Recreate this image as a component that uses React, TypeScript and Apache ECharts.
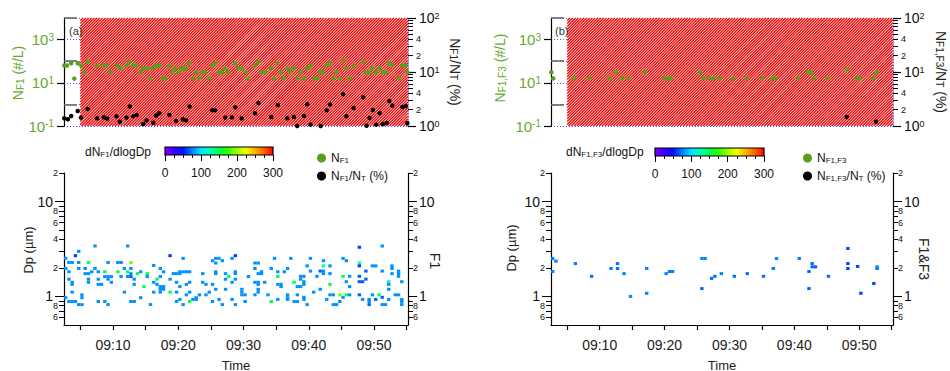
import React, { useEffect, useRef } from "react";
import * as echarts from "echarts";

// ---------- axes / ranges (minutes after 09:00) ----------
const TIME_RANGE = [2.5, 55.2];
const HATCH_FROM = 5;
const X_TICKS = [5, 10, 15, 20, 25, 30, 35, 40, 45, 50, 55];
const X_LABELS = [10, 20, 30, 40, 50];
const N_RANGE = [0.1, 10000];
const N_LABELLED = [0.1, 10, 1000];
const N_INNER = [1, 100, 10000];
const RATIO_RANGE = [1, 100];
const RATIO_MAJOR = [1, 10, 100];
const RATIO_MINOR = [2, 3, 4, 5, 6, 7, 8, 9, 20, 30, 40, 50, 60, 70, 80, 90];
const RATIO_MINOR_LABELS = [2, 4, 20, 40];
const DP_RANGE = [0.5, 20];
const DP_MAJOR = [1, 10];
const DP_MINOR = [0.6, 0.7, 0.8, 0.9, 2, 3, 4, 5, 6, 7, 8, 9, 20];
const DP_MINOR_LABELS = [0.6, 0.8, 2, 4, 6, 8, 20];
const CBAR_RANGE = [0, 300];
const CBAR_LABELS = [0, 100, 200, 300];
const CBAR_MINOR = [25, 50, 75, 125, 150, 175, 225, 250, 275];
const RAINBOW = ["#7f00ff", "#3c00ff", "#0010ff", "#0080ff", "#00e0ff", "#00ffb0", "#00ff50", "#30ff00", "#a0ff00", "#f0ff00", "#ffb000", "#ff6000", "#ff0000"];

// ---------- panel (a) : F1 ----------
// [minute, N_F1 (#/L)]
const nF1: [number, number][] = [
  [2.55, 63], [2.95, 63], [3.6, 80], [4.08, 15.6], [4.6, 80], [5.15, 63], [5.6, 31], [6.13, 94], [7.56, 63], [8.59, 63],
  [9.0, 63], [9.62, 31], [10.64, 63], [11.15, 47], [12.08, 63], [12.49, 94], [13.1, 63], [13.6, 63], [14.23, 31], [14.64, 47],
  [15.26, 47], [15.67, 15.6], [16.18, 47], [16.59, 63], [17.1, 63], [17.62, 15.6], [18.03, 15.6], [18.64, 63], [19.15, 31], [19.51, 47],
  [20.08, 31], [20.49, 47], [20.9, 47], [21.2, 47], [21.72, 80], [22.23, 15.6], [22.69, 31], [23.26, 15.6], [23.67, 31], [24.08, 31],
  [24.74, 15.6], [25.2, 63], [25.67, 80], [26.18, 31], [26.69, 31], [27.15, 47], [27.56, 31], [28.69, 80], [29.2, 47], [29.72, 47],
  [30.33, 31], [30.74, 15.6], [31.77, 63], [32.28, 94], [32.79, 31], [33.31, 31], [34.23, 47], [34.64, 15.6], [35.15, 80], [35.67, 31],
  [36.18, 15.6], [36.69, 47], [37.1, 31], [37.72, 47], [38.23, 15.6], [38.74, 31], [39.26, 15.6], [39.77, 47], [40.28, 63], [40.79, 15.6],
  [41.31, 15.6], [41.72, 31], [42.23, 31], [42.69, 63], [43.26, 80], [43.77, 15.6], [44.18, 31], [44.79, 15.6], [45.26, 110], [45.77, 47],
  [46.28, 15.6], [46.85, 63], [48.33, 94], [48.74, 31], [49.26, 31], [49.77, 47], [50.28, 31], [50.85, 47], [51.31, 31], [51.87, 31],
  [52.28, 80], [52.79, 63], [53.82, 15.6], [54.33, 63], [54.85, 63], [55.1, 31],
];
// [minute, N_F1/N_T (%)]
const ratioF1: [number, number][] = [
  [2.55, 1.39], [3.1, 1.33], [3.6, 1.53], [4.6, 1.9], [5.1, 1.43], [6.13, 2.07], [7.56, 1.39], [8.59, 1.45], [9.1, 1.37], [10.54, 1.51],
  [11.05, 1.2], [12.08, 1.43], [12.59, 2.29], [13.1, 1.51], [13.62, 1.6], [14.64, 1.09], [15.15, 1.27], [16.18, 1.15], [16.59, 1.56], [17.1, 1.72],
  [18.64, 1.6], [19.67, 1.24], [20.69, 1.33], [21.2, 1.27], [21.72, 2.29], [25.2, 1.95], [25.67, 1.95], [27.2, 1.43], [28.23, 1.45], [28.74, 2.22],
  [29.72, 1.39], [31.77, 1.72], [32.28, 2.67], [34.23, 1.47], [35.26, 2.45], [36.69, 1.39], [37.72, 1.47], [38.23, 1.0], [39.26, 1.53], [39.77, 2.53],
  [40.28, 1.06], [41.82, 1.0], [42.74, 1.95], [43.26, 2.49], [45.26, 3.87], [45.77, 1.51], [46.85, 2.16], [48.33, 3.41], [48.85, 1.01], [49.31, 1.41],
  [49.82, 1.98], [50.33, 1.06], [50.85, 1.72], [51.31, 1.09], [51.92, 1.14], [52.33, 2.91], [52.79, 2.39], [54.33, 2.25], [54.85, 2.35], [55.1, 1.14],
];
// [minute, Dp (µm), dN/dlogDp]
const cellsF1: [number, number, number][] = [
  [7.25, 3.4, 80], [12.25, 3.4, 80], [4.75, 2.99, 78], [4.25, 2.69, 60], [18.75, 2.69, 60], [2.75, 2.52, 80],
  [3.25, 2.28, 80], [3.75, 2.28, 80], [4.75, 2.28, 80], [6.25, 2.28, 150], [9.25, 2.28, 80], [10.75, 2.28, 80], [11.25, 2.28, 80], [12.75, 2.28, 190],
  [16.25, 2.12, 80],
  [2.75, 1.97, 80], [4.75, 1.97, 80], [5.75, 1.97, 80], [7.25, 1.97, 80], [11.75, 1.97, 80], [12.75, 1.97, 80], [17.25, 1.97, 80],
  [3.25, 1.82, 80], [6.75, 1.82, 80], [7.75, 1.82, 80], [8.75, 1.82, 150], [10.75, 1.82, 150], [12.25, 1.82, 145], [14.25, 1.82, 80], [17.75, 1.82, 80],
  [5.75, 1.74, 80], [6.25, 1.74, 80], [12.75, 1.74, 80], [13.75, 1.74, 150], [15.25, 1.74, 150], [19.25, 1.74, 80], [19.75, 1.74, 80],
  [8.75, 1.62, 80], [9.25, 1.62, 80], [9.75, 1.62, 80], [11.25, 1.62, 80], [12.25, 1.62, 80], [12.75, 1.62, 68], [15.25, 1.62, 80], [17.25, 1.62, 80],
  [3.25, 1.52, 80], [6.25, 1.52, 80], [7.75, 1.52, 80], [9.25, 1.52, 80], [13.25, 1.52, 80], [16.75, 1.52, 150], [18.75, 1.52, 80],
  [3.75, 1.41, 80], [6.25, 1.41, 80], [9.75, 1.41, 80], [16.25, 1.41, 80], [19.75, 1.41, 80],
  [3.75, 1.34, 80], [7.75, 1.34, 80], [8.25, 1.34, 80], [13.25, 1.34, 80], [16.75, 1.34, 80],
  [14.75, 1.27, 150], [17.25, 1.27, 80], [17.75, 1.27, 80], [17.25, 1.19, 80], [17.75, 1.19, 80],
  [3.75, 1.11, 80], [11.75, 1.11, 80], [16.25, 1.11, 80], [17.25, 1.11, 80], [18.75, 1.11, 150], [19.75, 1.11, 80],
  [5.25, 1.04, 80], [2.75, 0.97, 80], [5.25, 0.97, 80], [14.25, 0.97, 80],
  [3.25, 0.885, 80], [3.75, 0.885, 80], [4.25, 0.885, 80], [7.75, 0.885, 80], [8.75, 0.885, 80], [12.75, 0.885, 80], [13.25, 0.885, 80], [19.75, 0.885, 80],
  [4.75, 0.82, 80], [5.25, 0.82, 80], [9.25, 0.82, 80], [15.75, 0.82, 80],
  [28.75, 2.69, 60],
  [20.75, 2.52, 80], [25.75, 2.52, 80], [26.25, 2.52, 80], [28.25, 2.52, 80], [34.75, 2.52, 80], [37.25, 2.52, 80],
  [25.25, 2.38, 80], [26.75, 2.38, 80], [25.75, 2.25, 80], [31.75, 2.25, 80], [32.25, 2.25, 80],
  [31.75, 1.97, 80], [34.25, 1.97, 80], [36.75, 1.97, 80],
  [20.25, 1.82, 80], [20.75, 1.82, 80], [21.25, 1.82, 80], [21.75, 1.82, 80], [25.75, 1.82, 80], [28.75, 1.82, 80], [32.75, 1.82, 80], [35.25, 1.82, 80], [36.25, 1.82, 80],
  [20.25, 1.74, 80], [23.75, 1.74, 80], [25.75, 1.74, 80], [27.25, 1.74, 80], [28.75, 1.74, 80], [32.25, 1.74, 80], [32.75, 1.74, 80],
  [27.75, 1.62, 150], [30.75, 1.62, 80], [35.25, 1.62, 150], [27.25, 1.52, 80], [28.75, 1.52, 80],
  [21.75, 1.41, 80], [23.75, 1.41, 80], [28.25, 1.41, 80], [31.75, 1.41, 80], [32.25, 1.41, 80], [33.25, 1.41, 80], [37.75, 1.41, 150],
  [21.25, 1.34, 80], [24.25, 1.34, 80], [25.25, 1.34, 80], [32.25, 1.34, 80], [35.25, 1.34, 80], [35.75, 1.34, 80],
  [20.25, 1.27, 80], [35.75, 1.27, 80],
  [25.75, 1.19, 80], [27.25, 1.19, 80], [29.75, 1.19, 80], [32.25, 1.19, 80],
  [21.75, 1.11, 80], [24.75, 1.11, 80], [29.75, 1.11, 80], [32.25, 1.11, 80],
  [21.25, 1.04, 80], [23.25, 1.04, 80], [24.25, 1.04, 80], [29.75, 1.04, 80], [30.25, 1.04, 80], [31.75, 1.04, 80], [33.75, 1.04, 80], [36.75, 1.04, 80],
  [22.75, 0.97, 80], [36.75, 0.97, 80],
  [20.25, 0.93, 80], [22.25, 0.93, 80], [22.75, 0.93, 80], [26.25, 0.93, 80], [28.25, 0.93, 80], [35.25, 0.93, 80], [36.75, 0.93, 80],
  [21.75, 0.885, 150], [25.25, 0.885, 80], [30.25, 0.885, 80], [34.25, 0.885, 150], [37.75, 0.885, 80],
  [20.75, 0.82, 80], [26.75, 0.82, 80], [28.75, 0.82, 80],
  [47.75, 3.3, 60], [51.25, 3.4, 80], [40.25, 2.52, 80], [45.25, 2.52, 80], [42.25, 2.38, 80], [45.75, 2.38, 80], [47.75, 2.25, 125],
  [39.75, 2.1, 80], [42.25, 2.1, 125], [43.25, 2.1, 80], [47.75, 2.1, 60], [49.75, 2.1, 80], [50.25, 2.1, 80], [52.75, 2.1, 80], [52.75, 1.97, 80],
  [40.25, 1.85, 80], [41.75, 1.85, 68], [42.25, 1.85, 80], [48.75, 1.85, 68], [51.25, 1.85, 80], [53.75, 1.85, 80],
  [42.25, 1.74, 80], [43.25, 1.74, 80], [52.75, 1.74, 80], [53.75, 1.74, 80],
  [38.75, 1.63, 80], [39.25, 1.63, 80], [41.25, 1.63, 80], [45.25, 1.63, 150], [46.25, 1.63, 80], [47.75, 1.63, 68], [53.75, 1.63, 80],
  [38.75, 1.52, 80], [48.75, 1.52, 68],
  [39.25, 1.43, 80], [45.75, 1.43, 80], [47.75, 1.43, 68], [48.25, 1.43, 68], [52.25, 1.43, 125], [54.25, 1.43, 80],
  [39.25, 1.34, 80], [43.25, 1.34, 150], [52.25, 1.34, 80], [38.25, 1.27, 80], [38.75, 1.27, 80], [46.25, 1.27, 80],
  [41.75, 1.19, 80], [52.25, 1.19, 80], [40.75, 1.11, 80],
  [38.25, 1.04, 80], [43.25, 1.04, 80], [43.75, 1.04, 80], [44.75, 1.04, 190], [45.75, 1.04, 145], [46.25, 1.04, 80], [47.75, 1.04, 68], [49.75, 1.04, 80], [50.75, 1.04, 145], [53.25, 1.04, 80], [53.75, 1.04, 80],
  [39.25, 0.98, 80], [45.25, 0.98, 80], [51.25, 0.98, 68],
  [39.25, 0.93, 80], [42.75, 0.93, 80], [48.25, 0.93, 80], [49.25, 0.93, 80], [50.25, 0.93, 68], [52.25, 0.93, 80], [54.25, 0.93, 80],
  [38.25, 0.885, 80], [44.75, 0.885, 80], [49.25, 0.885, 80], [54.25, 0.885, 80],
  [39.75, 0.82, 80], [43.75, 0.82, 80], [44.25, 0.82, 80], [49.25, 0.82, 68], [51.25, 0.82, 80], [51.75, 0.82, 80], [54.25, 0.82, 80],
];

// ---------- panel (b) : F1 & F3 ----------
const nF1F3: [number, number][] = [
  [2.55, 31], [2.85, 16], [5.97, 16], [8.38, 16], [11.46, 16], [12.49, 31], [13.41, 16], [14.44, 16], [16.95, 31], [20.03, 16],
  [20.54, 16], [20.95, 16], [25.46, 31], [25.97, 16], [26.95, 16], [27.51, 16], [28.49, 16], [30.54, 15.6], [32.59, 15.6], [35.05, 15.6],
  [36.59, 15.6], [37.05, 16], [40.59, 16], [42.08, 31], [42.59, 31], [43.1, 15.6], [45.1, 16], [48.13, 40], [49.62, 15.6], [50.13, 15.6],
  [52.18, 15.6], [52.64, 31],
];
const ratioF1F3: [number, number][] = [[48.08, 1.47], [52.59, 1.2]];
const cellsF1F3: [number, number, number][] = [
  [2.75, 2.51, 75], [3.25, 2.36, 75], [2.75, 1.83, 75], [6.25, 2.22, 75], [8.75, 1.63, 72], [11.75, 1.97, 75], [12.75, 2.22, 72],
  [12.75, 1.97, 72], [13.75, 1.74, 75], [14.75, 1.0, 78], [17.25, 1.97, 78], [17.25, 1.08, 75], [20.25, 1.74, 75], [20.75, 1.83, 75],
  [21.25, 1.83, 75], [25.75, 2.51, 78], [26.25, 2.51, 78], [25.75, 1.21, 70], [27.25, 1.55, 70], [27.75, 1.63, 72], [28.75, 1.74, 75],
  [30.75, 1.63, 72], [32.75, 1.74, 72], [35.25, 1.63, 72], [36.75, 1.97, 75], [37.25, 2.51, 78], [40.75, 2.51, 75], [42.25, 1.83, 70],
  [42.25, 1.21, 68], [42.75, 2.22, 72], [42.75, 2.05, 70], [43.25, 2.05, 68], [45.25, 1.63, 72], [48.25, 3.2, 62], [48.25, 2.22, 62],
  [48.25, 1.97, 62], [49.75, 2.07, 62], [50.25, 1.08, 62], [52.25, 1.37, 62], [52.75, 2.05, 75], [52.75, 1.97, 75],
];

const FONT = "'Liberation Sans', Arial, Helvetica, sans-serif";
const GREEN_TXT = "#68a832";
const GREEN_DOT = "#58a01c";
const BLUE_DOT = "#3a5cff";
const lg = (v: number) => Math.log10(v);
const lead = (v: number) => {
  const n = Math.pow(10, v);
  const e = Math.floor(Math.log10(n) + 1e-9);
  return String(Math.round(n / Math.pow(10, e)));
};

function richSub(size: number, color: string, sub: number, drop: number) {
  return {
    m: { fontSize: size, lineHeight: size, verticalAlign: "top", color, fill: color, fontFamily: FONT },
    s: { fontSize: sub, lineHeight: sub, verticalAlign: "bottom", padding: [drop, 0, 0, 0], color, fill: color, fontFamily: FONT },
  };
}
function richSup(size: number, color: string, sup: number, rise: number) {
  return {
    b: { fontSize: size, lineHeight: size, verticalAlign: "bottom", color, fontFamily: FONT },
    p: { fontSize: sup, lineHeight: sup, verticalAlign: "top", padding: [0, 0, rise, 0], color, fontFamily: FONT },
  };
}

function buildOption() {
  const grid: any[] = [], xAxis: any[] = [], yAxis: any[] = [], series: any[] = [];
  const addX = (a: any) => (xAxis.push(a), xAxis.length - 1);
  const addY = (a: any) => (yAxis.push(a), yAxis.length - 1);
  const addG = (g: any) => (grid.push(g), grid.length - 1);
  const noSplit = { show: false };
  const cellSeries: number[] = [];

  function topPanel(left: number, width: number, nData: [number, number][], rData: [number, number][], nName: string, rName: string) {
    const g = addG({ left, top: 18, width, height: 108 });
    const x = addX({ type: "value", gridIndex: g, min: TIME_RANGE[0], max: TIME_RANGE[1], show: false });
    const yMin = lg(N_RANGE[0]), yMax = lg(N_RANGE[1]);
    addY({ type: "value", gridIndex: g, position: "left", min: yMin, max: yMax, interval: 1,
      axisLine: { show: false }, axisTick: { show: false }, axisLabel: { show: false },
      splitLine: { show: true, lineStyle: { color: BLUE_DOT, type: [1, 2], width: 1 } } });
    const yl = addY({ type: "value", gridIndex: g, position: "left", min: yMin, max: yMax,
      axisLine: { show: true, onZero: false, lineStyle: { color: "#000", width: 1.2 } },
      axisTick: { show: true, length: 7, customValues: N_LABELLED.map(lg), lineStyle: { color: "#000", width: 1.2 } },
      axisLabel: { show: true, customValues: N_LABELLED.map(lg), margin: 10, color: GREEN_TXT,
        formatter: (v: number) => `{b|10}{p|${Math.round(v)}}`, rich: richSup(15, GREEN_TXT, 10, 8) },
      splitLine: noSplit });
    addY({ type: "value", gridIndex: g, position: "left", min: yMin, max: yMax,
      axisLine: { show: false }, axisLabel: { show: false }, splitLine: noSplit,
      axisTick: { show: true, inside: true, length: 13, customValues: N_INNER.map(lg), lineStyle: { color: "#666", width: 1.6 } } });
    const rMin = lg(RATIO_RANGE[0]), rMax = lg(RATIO_RANGE[1]);
    const yr = addY({ type: "value", gridIndex: g, position: "right", min: rMin, max: rMax,
      axisLine: { show: true, onZero: false, lineStyle: { color: BLUE_DOT, type: [1, 2], width: 1.5 } },
      axisTick: { show: true, length: 8, customValues: RATIO_MAJOR.map(lg), lineStyle: { color: "#000", type: "solid", width: 1.2 } },
      axisLabel: { show: true, customValues: RATIO_MAJOR.map(lg), margin: 11, color: "#111",
        formatter: (v: number) => `{b|10}{p|${Math.round(v)}}`, rich: richSup(14, "#111", 9, 8) },
      splitLine: noSplit });
    addY({ type: "value", gridIndex: g, position: "right", min: rMin, max: rMax, axisLine: { show: false },
      axisTick: { show: true, length: 5, customValues: RATIO_MINOR.map(lg), lineStyle: { color: "#000", width: 1 } },
      axisLabel: { show: true, customValues: RATIO_MINOR_LABELS.map(lg), margin: 8, fontSize: 9, color: "#111", formatter: lead },
      splitLine: noSplit });

    series.push({
      type: "custom", xAxisIndex: x, yAxisIndex: yl, silent: true, clip: false, z: 1,
      data: [[HATCH_FROM, TIME_RANGE[1]]],
      renderItem: (_p: any, api: any) => {
        const a = api.coord([api.value(0), yMin]);
        const b = api.coord([api.value(1), yMax]);
        const x0 = a[0], x1 = b[0], y0 = b[1], y1 = a[1];
        const children: any[] = [{ type: "rect", shape: { x: x0, y: y0, width: x1 - x0, height: y1 - y0 }, style: { fill: "#fff" } }];
        for (let c = x0 + y0; c <= x1 + y1; c += 2.8) {
          const xa = Math.max(x0, c - y1), xb = Math.min(x1, c - y0);
          if (xb > xa) children.push({ type: "line", shape: { x1: xa, y1: c - xa, x2: xb, y2: c - xb }, style: { stroke: "#ee0a0a", lineWidth: 1.35 } });
        }
        return { type: "group", children };
      },
    });
    series.push({ type: "scatter", name: nName, xAxisIndex: x, yAxisIndex: yl, symbol: "circle", symbolSize: 4.5, silent: true, z: 3,
      itemStyle: { color: GREEN_DOT, opacity: 1 }, data: nData.map((d) => [d[0], lg(d[1])]) });
    series.push({ type: "scatter", name: rName, xAxisIndex: x, yAxisIndex: yr, symbol: "circle", symbolSize: 4.5, silent: true, z: 3,
      itemStyle: { color: "#000", opacity: 1 }, data: rData.map((d) => [d[0], lg(d[1])]) });
  }

  function bottomPanel(left: number, width: number, cells: [number, number, number][]) {
    const g = addG({ left, top: 173, width, height: 152 });
    const x = addX({ type: "value", gridIndex: g, position: "bottom", min: TIME_RANGE[0], max: TIME_RANGE[1],
      axisLine: { show: true, onZero: false, lineStyle: { color: "#000", width: 1.2 } },
      axisTick: { show: true, length: 5, customValues: X_TICKS, lineStyle: { color: "#000", width: 1.2 } },
      axisLabel: { show: true, customValues: X_LABELS, margin: 13, fontSize: 14, color: "#222", formatter: (v: number) => "09:" + v },
      splitLine: noSplit });
    const dMin = lg(DP_RANGE[0]), dMax = lg(DP_RANGE[1]);
    const mk = (pos: string, major: boolean) => ({
      type: "value", gridIndex: g, position: pos, min: dMin, max: dMax,
      axisLine: { show: major, onZero: false, lineStyle: { color: "#000", width: 1.2 } },
      axisTick: { show: true, length: major ? 9 : 5, customValues: (major ? DP_MAJOR : DP_MINOR).map(lg), lineStyle: { color: "#000", width: 1 } },
      axisLabel: major
        ? { show: true, customValues: DP_MAJOR.map(lg), margin: 11, fontSize: 14, color: "#111", formatter: (v: number) => String(Math.round(Math.pow(10, v))) }
        : { show: true, customValues: DP_MINOR_LABELS.map(lg), margin: pos === "left" ? 6 : 5, fontSize: 9, color: "#111", formatter: lead },
      splitLine: noSplit,
    });
    const yl = addY(mk("left", true));
    addY(mk("left", false));
    addY(mk("right", true));
    addY(mk("right", false));
    cellSeries.push(series.length);
    series.push({ type: "scatter", xAxisIndex: x, yAxisIndex: yl, symbol: "rect", symbolSize: [3.4, 3.0], silent: true,
      itemStyle: { opacity: 1 }, data: cells.map((c) => [c[0], lg(c[1]), c[2]]) });
  }

  function colorbar(left: number, top: number, width: number) {
    const g = addG({ left, top, width, height: 8 });
    const x = addX({ type: "value", gridIndex: g, position: "bottom", min: CBAR_RANGE[0], max: CBAR_RANGE[1],
      axisLine: { show: false, onZero: false },
      axisTick: { show: true, length: 6, customValues: CBAR_LABELS, lineStyle: { color: "#000", width: 1 } },
      axisLabel: { show: true, customValues: CBAR_LABELS, margin: 12, fontSize: 12, color: "#111" }, splitLine: noSplit });
    addX({ type: "value", gridIndex: g, position: "bottom", min: CBAR_RANGE[0], max: CBAR_RANGE[1],
      axisLine: { show: false, onZero: false }, axisLabel: { show: false }, splitLine: noSplit,
      axisTick: { show: true, length: 3, customValues: CBAR_MINOR, lineStyle: { color: "#000", width: 1 } } });
    const y = addY({ type: "value", gridIndex: g, min: 0, max: 1, show: false });
    series.push({ type: "custom", xAxisIndex: x, yAxisIndex: y, silent: true, clip: false, data: [[CBAR_RANGE[0], CBAR_RANGE[1]]],
      renderItem: (_p: any, api: any) => {
        const a = api.coord([api.value(0), 0]);
        const b = api.coord([api.value(1), 1]);
        return { type: "rect", shape: { x: a[0], y: b[1], width: b[0] - a[0], height: a[1] - b[1] },
          style: { fill: new echarts.graphic.LinearGradient(0, 0, 1, 0, RAINBOW.map((c, i) => ({ offset: i / (RAINBOW.length - 1), color: c }))), stroke: "#000", lineWidth: 1.2 } };
      } });
  }

  topPanel(64, 344, nF1, ratioF1, "NF1", "NF1/NT");
  topPanel(551, 342, nF1F3, ratioF1F3, "NF1F3", "NF1F3/NT");
  bottomPanel(64, 344, cellsF1);
  bottomPanel(551, 342, cellsF1F3);
  colorbar(165, 147, 108);
  colorbar(655, 148, 109);

  const legendNames: Record<string, string> = {
    NF1: "{m|N}{s|F1}",
    "NF1/NT": "{m|N}{s|F1}{m|/N}{s|T}{m| (%)}",
    NF1F3: "{m|N}{s|F1,F3}",
    "NF1F3/NT": "{m|N}{s|F1,F3}{m|/N}{s|T}{m| (%)}",
  };
  const legendBase = { orient: "vertical", itemWidth: 9, itemHeight: 9, itemGap: 4, icon: "circle", selectedMode: false,
    formatter: (n: string) => legendNames[n], textStyle: { color: "#111", fontFamily: FONT, rich: richSub(12, "#111", 8, 6) } };

  const T = (x: number, y: number, text: string, o: any = {}) => {
    const size = o.size || 13, color = o.color || "#222";
    return { type: "text", x, y, rotation: o.rot || 0, silent: true, z: 10,
      style: { text, fill: color, fontSize: size, fontFamily: FONT, textAlign: o.align || "center", align: o.align || "center",
        textVerticalAlign: "middle", verticalAlign: "middle", rich: richSub(size, color, Math.round(size * 0.68), Math.round(size * 0.5)) } };
  };
  const up = Math.PI / 2, down = -Math.PI / 2;

  return {
    animation: false,
    textStyle: { fontFamily: FONT },
    grid, xAxis, yAxis, series,
    visualMap: { type: "continuous", show: false, min: CBAR_RANGE[0], max: CBAR_RANGE[1], dimension: 2, seriesIndex: cellSeries, inRange: { color: RAINBOW } },
    legend: [
      { ...legendBase, left: 312, top: 145, data: ["NF1", "NF1/NT"] },
      { ...legendBase, left: 798, top: 145, data: ["NF1F3", "NF1F3/NT"] },
    ],
    graphic: [
      T(18, 73, "{m|N}{s|F1}{m| (#/L)}", { rot: up, color: GREEN_TXT, size: 14 }),
      T(455, 72, "{m|N}{s|F1}{m|/N}{s|T}{m| (%)}", { rot: down, size: 14 }),
      T(500, 68, "{m|N}{s|F1,F3}{m| (#/L)}", { rot: up, color: GREEN_TXT, size: 14 }),
      T(941, 72, "{m|N}{s|F1,F3}{m|/N}{s|T}{m| (%)}", { rot: down, size: 14 }),
      T(69, 31, "{m|(a)}", { align: "left", size: 11, color: "#333" }),
      T(555, 31, "{m|(b)}", { align: "left", size: 11, color: "#333" }),
      T(85, 152, "{m|dN}{s|F1}{m|/dlogDp}", { align: "left", size: 12, color: "#111" }),
      T(566, 152, "{m|dN}{s|F1,F3}{m|/dlogDp}", { align: "left", size: 12, color: "#111" }),
      T(28, 250, "{m|Dp (µm)}", { rot: up, size: 13 }),
      T(511, 248, "{m|Dp (µm)}", { rot: up, size: 13 }),
      T(435, 261, "{m|F1}", { rot: down, size: 14 }),
      T(924, 259, "{m|F1&F3}", { rot: down, size: 14 }),
      T(236, 365, "{m|Time}", { size: 13 }),
      T(722, 365, "{m|Time}", { size: 13 }),
    ],
  };
}

export default function App() {
  const ref = useRef<HTMLDivElement>(null);
  useEffect(() => {
    if (!ref.current) return;
    const chart = echarts.init(ref.current, undefined, { renderer: "svg" });
    chart.setOption(buildOption() as any);
    return () => chart.dispose();
  }, []);
  return <div ref={ref} style={{ position: "fixed", left: 0, top: 0, width: 950, height: 371, background: "#fff" }} />;
}
